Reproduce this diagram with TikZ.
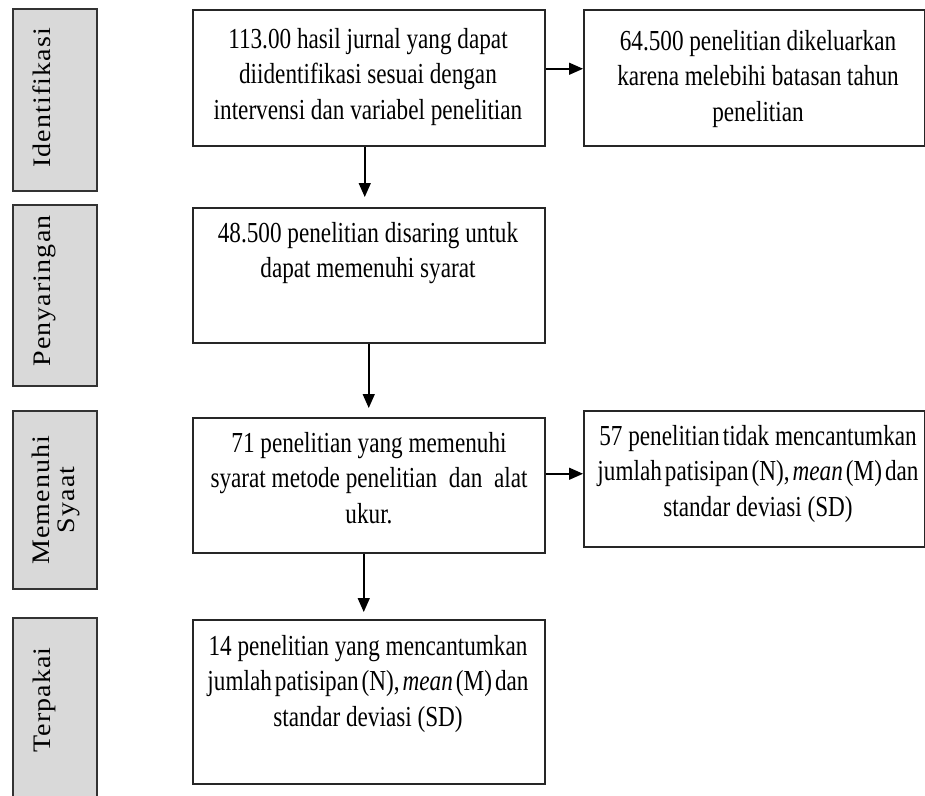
\documentclass[tikz,border=0pt]{standalone}
\usepackage{fontspec}
\usepackage{graphicx}
\usetikzlibrary{arrows.meta}
\newfontfamily\boxfont[FakeStretch=0.80]{Liberation Serif}
\newfontfamily\sidefont[LetterSpace=4]{Liberation Serif}
\newcommand\tsp{\hspace{3pt}}
\begin{document}
\begin{tikzpicture}[x=1pt,y=-1pt,
  sidebox/.style={draw=black!80, line width=1.5pt, fill=gray!30, inner sep=0, minimum width=84pt, anchor=north west},
  flowbox/.style={draw=black!85, line width=1.5pt, inner sep=0, anchor=north west},
  boxtext/.style={inner sep=0, anchor=north, align=center, font=\boxfont\fontsize{29}{35.5}\selectfont},
  sidetext/.style={inner sep=0, rotate=90, anchor=base, font=\sidefont\fontsize{28}{27}\selectfont},
  arr/.style={-{Triangle[width=12pt,length=14pt]}, line width=1.5pt}]
\useasboundingbox (0,0) rectangle (925,795);
\fill[white] (0,0) rectangle (925,795);

% side stage boxes
\node[sidebox, minimum height=182pt] (s1) at (12,8) {};
\node[sidebox, minimum height=181pt] (s2) at (12,204) {};
\node[sidebox, minimum height=178pt] (s3) at (12,410) {};
\node[sidebox, minimum height=200pt] (s4) at (12,617) {};

\node[sidetext] (l1) at (50,98) {\scalebox{1}[0.9]{Identifikasi}};
\node[sidetext] (l2) at (50,291) {\scalebox{1}[0.9]{Penyaringan}};
\node[sidetext, anchor=center] (l3) at (57,500) {\scalebox{1}[0.9]{\begin{tabular}{@{}c@{}}Memenuhi\\Syaat\end{tabular}}};
\node[sidetext] (l4) at (50,700) {\scalebox{1}[0.9]{Terpakai}};

% flow boxes
\node[flowbox, minimum width=352pt, minimum height=136pt] (b1) at (192,9) {};
\node[flowbox, minimum width=352pt, minimum height=135pt] (b2) at (192,207) {};
\node[flowbox, minimum width=352pt, minimum height=135pt] (b3) at (192,417) {};
\node[flowbox, minimum width=352pt, minimum height=164pt] (b4) at (192,619) {};
\node[flowbox, minimum width=341pt, minimum height=136pt] (r1) at (583,9) {};
\node[flowbox, minimum width=341pt, minimum height=136pt] (r2) at (583,410) {};

% texts
\node[boxtext] (t1) at (368,28) {113.00 hasil jurnal yang dapat\\diidentifikasi sesuai dengan\\intervensi dan variabel penelitian};
\node[boxtext] (tr1) at (758,30) {64.500 penelitian dikeluarkan\\karena melebihi batasan tahun\\penelitian};
\node[boxtext] (t2) at (368,222) {48.500 penelitian disaring untuk\\dapat memenuhi syarat};
\node[boxtext] (t3) at (369,432) {71 penelitian yang memenuhi\\syarat metode penelitian\ \ dan\ \ alat\\ukur.};
\node[boxtext] (tr2) at (758,425) {57 penelitian\tsp tidak mencantumkan\\jumlah\tsp patisipan\tsp(N),\tsp\textit{mean}\tsp(M)\tsp dan\\standar deviasi (SD)};
\node[boxtext] (t4) at (368,635) {14 penelitian yang mencantumkan\\jumlah\tsp patisipan\tsp(N),\tsp\textit{mean}\tsp(M)\tsp dan\\standar deviasi (SD)};

% connectors
\draw[arr, shorten >=10pt] ([xshift=-4pt]b1.south) -- ([xshift=-4pt]b2.north);
\draw[arr, shorten >=9pt] (b2.south) -- (b3.north);
\draw[arr, shorten >=7pt] ([xshift=-5pt]b3.south) -- ([xshift=-5pt]b4.north);
\draw[arr] ([yshift=9pt]b1.east) -- ([yshift=9pt]r1.west);
\draw[arr] ([yshift=11.5pt]b3.east) -- ([yshift=11.5pt]b3.east -| r2.west);
\end{tikzpicture}
\end{document}
